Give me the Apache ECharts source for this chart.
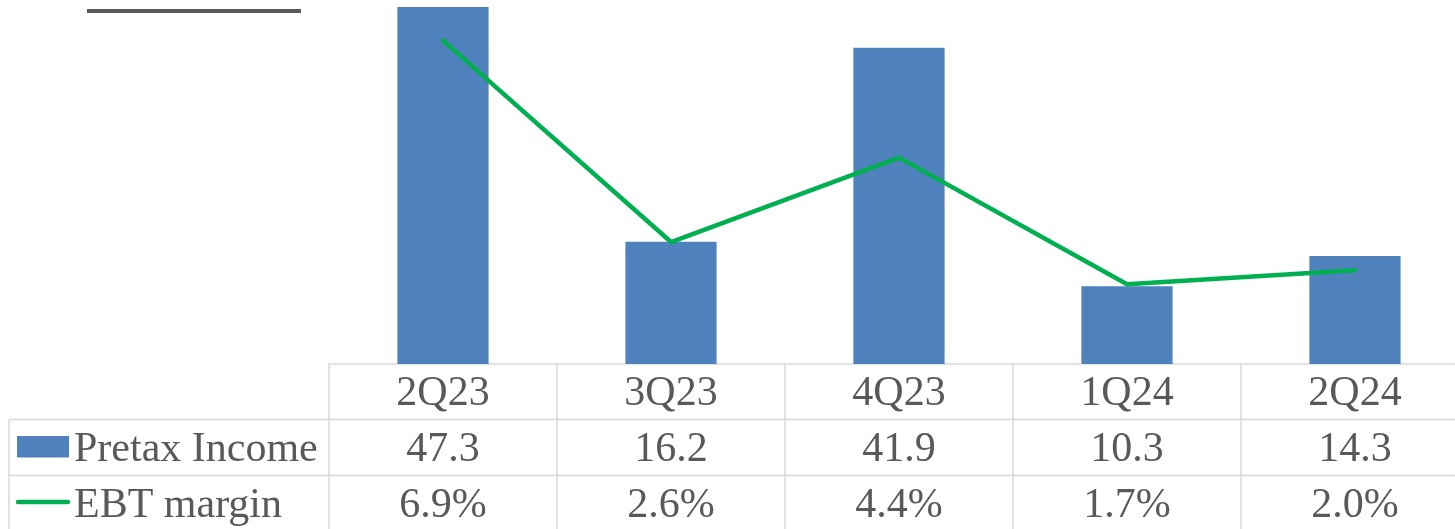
<!DOCTYPE html>
<html>
<head>
<meta charset="utf-8">
<script src="https://cdn.jsdelivr.net/npm/echarts@6/dist/echarts.min.js"></script>
<style>html,body{margin:0;padding:0;background:#fff}#c{width:1455px;height:529px}</style>
</head>
<body>
<div id="c"></div>
<script>
const categories = ['2Q23', '3Q23', '4Q23', '1Q24', '2Q24'];
const pretaxIncome = [47.3, 16.2, 41.9, 10.3, 14.3];
const ebtMargin = [6.9, 2.6, 4.4, 1.7, 2.0];
const seriesNames = ['Pretax Income', 'EBT margin'];
const pretaxLabels = ['47.3', '16.2', '41.9', '10.3', '14.3'];
const marginLabels = ['6.9%', '2.6%', '4.4%', '1.7%', '2.0%'];

const BLUE = '#4F81BD', GREEN = '#00B050', GRID = '#D9D9D9', TXT = '#595959';
const FONT = '"Liberation Serif", "Times New Roman", serif';
const FS = 42;

const chart = echarts.init(document.getElementById('c'), null, {renderer: 'canvas'});
chart.setOption({
  animation: false,
  backgroundColor: '#fff',
  grid: {left: 329, top: 0, width: 1140, height: 364, containLabel: false, outerBoundsMode: 'none'},
  xAxis: {
    type: 'category', data: categories, boundaryGap: true,
    axisLine: {show: true, lineStyle: {color: GRID, width: 1.5}},
    axisTick: {show: true, length: 170, lineStyle: {color: GRID, width: 1.5}},
    axisLabel: {show: true, fontFamily: FONT, fontSize: FS, color: TXT, margin: 9, lineHeight: 42}
  },
  yAxis: [
    {type: 'value', min: 0, max: 48.22, show: false, splitLine: {show: false}},
    {type: 'value', min: 0, max: 7.76, show: false, splitLine: {show: false}}
  ],
  series: [
    {name: seriesNames[0], type: 'bar', data: pretaxIncome, barWidth: '40%', itemStyle: {color: BLUE}, yAxisIndex: 0},
    {name: seriesNames[1], type: 'line', data: ebtMargin, yAxisIndex: 1, symbol: 'none',
     lineStyle: {color: GREEN, width: 4.5, cap: 'round', join: 'round'}}
  ]
});

const row1 = 419.5, row2 = 475.5;
const y1 = 449.5, y2 = 505.5;
const g = [];
g.push({type: 'line', shape: {x1: 87, y1: 11, x2: 301, y2: 11}, style: {stroke: '#595959', lineWidth: 4}});
g.push({type: 'line', shape: {x1: 9, y1: row1, x2: 1455, y2: row1}, style: {stroke: GRID, lineWidth: 1.5}});
g.push({type: 'line', shape: {x1: 9, y1: row2, x2: 1455, y2: row2}, style: {stroke: GRID, lineWidth: 1.5}});
g.push({type: 'line', shape: {x1: 9, y1: row1, x2: 9, y2: 529}, style: {stroke: GRID, lineWidth: 1.5}});
g.push({type: 'rect', shape: {x: 17, y: 436, width: 52, height: 21.5}, style: {fill: BLUE}});
g.push({type: 'line', shape: {x1: 18, y1: 502, x2: 68, y2: 502}, style: {stroke: GREEN, lineWidth: 4.5, lineCap: 'round'}});
g.push({type: 'text', x: 74, y: y1, style: {text: seriesNames[0], font: FS + 'px ' + FONT, fill: TXT, textAlign: 'left', textVerticalAlign: 'middle'}});
g.push({type: 'text', x: 74, y: y2, style: {text: seriesNames[1], font: FS + 'px ' + FONT, fill: TXT, textAlign: 'left', textVerticalAlign: 'middle'}});
categories.forEach((c, i) => {
  const x = chart.convertToPixel({xAxisIndex: 0}, i);
  g.push({type: 'text', x: x, y: y1, style: {text: pretaxLabels[i], font: FS + 'px ' + FONT, fill: TXT, textAlign: 'center', textVerticalAlign: 'middle'}});
  g.push({type: 'text', x: x, y: y2, style: {text: marginLabels[i], font: FS + 'px ' + FONT, fill: TXT, textAlign: 'center', textVerticalAlign: 'middle'}});
});
chart.setOption({graphic: g});
</script>
</body>
</html>
